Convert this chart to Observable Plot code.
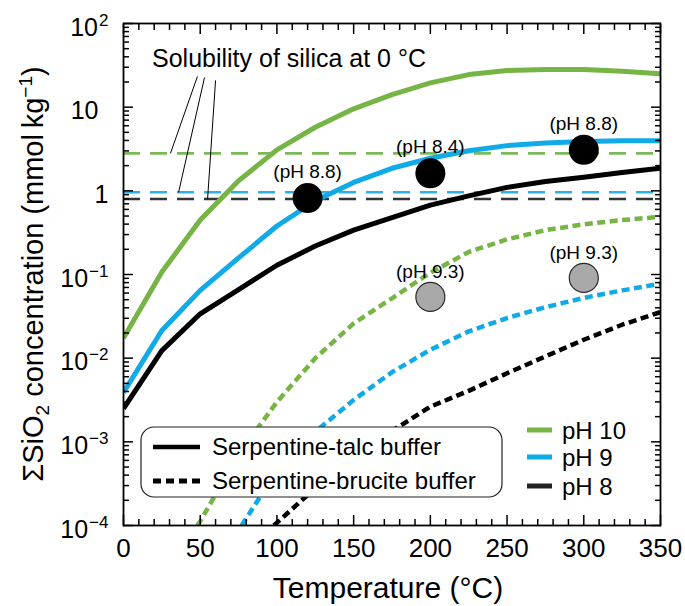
<!DOCTYPE html>
<html><head><meta charset="utf-8">
<script src="https://cdn.jsdelivr.net/npm/d3@7"></script>
<script src="https://cdn.jsdelivr.net/npm/@observablehq/plot@0.6"></script>
<style>
html,body{margin:0;padding:0;background:#fff;}
#chart svg{display:block;}
</style>
</head><body><div id="chart"></div>
<script>
// ---------- data ----------
const temps = [0, 25, 50, 75, 100, 125, 150, 175, 200, 225, 250, 275, 300, 325, 350];
// Serpentine-talc buffer (solid)
const talcPH10 = [0.0174, 0.107, 0.447, 1.32, 3.09, 5.75, 9.55, 14.1, 19.5, 24.5, 27.5, 28.2, 28.2, 26.9, 25.1];
const talcPH9  = [0.0039, 0.0214, 0.0646, 0.158, 0.38, 0.76, 1.26, 1.86, 2.45, 3.02, 3.47, 3.72, 3.89, 3.98, 3.98];
const talcPH8  = [0.0025, 0.0123, 0.0339, 0.066, 0.129, 0.219, 0.339, 0.479, 0.676, 0.871, 1.10, 1.29, 1.45, 1.66, 1.86];
// Serpentine-brucite buffer (dotted)
const bruciteTempsPH10 = [48, 50, 75, 100, 125, 150, 175, 200, 225, 250, 275, 300, 325, 350];
const brucitePH10 = [1.0e-4, 1.12e-4, 7.1e-4, 3.0e-3, 0.010, 0.026, 0.052, 0.105, 0.186, 0.263, 0.339, 0.398, 0.447, 0.49];
const bruciteTempsPH9 = [77, 100, 125, 150, 175, 200, 225, 250, 275, 300, 325, 350];
const brucitePH9 = [1.0e-4, 4.5e-4, 1.32e-3, 3.16e-3, 6.8e-3, 0.0126, 0.0209, 0.0302, 0.0407, 0.0525, 0.0646, 0.0776];
const bruciteTempsPH8 = [98, 125, 150, 175, 200, 225, 250, 275, 300, 325, 350];
const brucitePH8 = [1.0e-4, 2.8e-4, 6.3e-4, 1.35e-3, 2.63e-3, 4.07e-3, 6.6e-3, 0.0105, 0.0166, 0.0251, 0.0355];
// Solubility of silica at 0 °C (dashed lines), order: pH 10, pH 9, pH 8
const solubility = [2.8, 0.96, 0.80];
// Measured points
const blackDotT = [120, 200, 300];
const blackDotV = [0.82, 1.62, 3.09];
const blackDotLabels = ["(pH 8.8)", "(pH 8.4)", "(pH 8.8)"];
const grayDotT = [200, 300];
const grayDotV = [0.054, 0.091];
const grayDotLabels = ["(pH 9.3)", "(pH 9.3)"];
// Annotation leader lines (top end near text, bottom end on dashed line)
const leaderTopT = [48.2, 52.8, 60.0];
const leaderTopV = [23.3, 22.6, 20.9];
const leaderBottomT = [30.6, 35.9, 54.8];
// Labels
const phLabels = ["pH 10", "pH 9", "pH 8"];
const bufferLabels = ["Serpentine-talc buffer", "Serpentine-brucite buffer"];
const xTicks = [0, 50, 100, 150, 200, 250, 300, 350];

// ---------- styles ----------
const colors = ["#77b446", "#10abe6", "#000000"];
const dashColors = ["#7db95a", "#2bb0e8", "#333333"];
const FONT = '"Liberation Sans", Arial, Helvetica, sans-serif';

const xMinor = d3.range(0, 351, 10).filter(d => d % 50 !== 0);
const yMajor = [1e-4, 1e-3, 1e-2, 1e-1, 1, 10, 100];
const yMinor = [];
for (let e = -4; e <= 1; e++) for (let k = 2; k <= 9; k++) yMinor.push(k * Math.pow(10, e));

const talc = [talcPH10, talcPH9, talcPH8];
const bruT = [bruciteTempsPH10, bruciteTempsPH9, bruciteTempsPH8];
const bru = [brucitePH10, brucitePH9, brucitePH8];

const lineMarks = [];
talc.forEach((vals, s) => {
  lineMarks.push(Plot.line(temps.map((t, i) => ({t, v: vals[i]})),
    {x: "t", y: "v", stroke: colors[s], strokeWidth: 5, strokeLinecap: "butt", clip: true}));
});
bru.forEach((vals, s) => {
  lineMarks.push(Plot.line(bruT[s].map((t, i) => ({t, v: vals[i]})),
    {x: "t", y: "v", stroke: colors[s], strokeWidth: 4.5, strokeDasharray: "8,4.5", strokeLinecap: "butt", strokeLinejoin: "miter", clip: true}));
});

const solData = solubility.map((v, i) => ({v, c: dashColors[i]}));
const leaders = leaderTopT.map((t, i) => ({x1: t, y1: leaderTopV[i], x2: leaderBottomT[i], y2: solubility[i]}));
const blackDots = blackDotT.map((t, i) => ({t, v: blackDotV[i], label: blackDotLabels[i]}));
const grayDots = grayDotT.map((t, i) => ({t, v: grayDotV[i], label: grayDotLabels[i]}));

function yFmt(d) {
  const e = Math.round(Math.log10(d));
  if (e === 0) return "1";
  if (e === 1) return "10";
  return "10^" + e;
}

const chart = Plot.plot({
  width: 685, height: 606,
  marginLeft: 123, marginRight: 25, marginTop: 23, marginBottom: 81,
  style: {fontFamily: FONT, background: "white", color: "black"},
  x: {domain: [0, 350]},
  y: {type: "log", domain: [1e-4, 100]},
  marks: [
    Plot.ruleY(solData, {y: "v", stroke: "c", strokeWidth: 2.6, strokeDasharray: "17,10"}),
    Plot.link(leaders, {x1: "x1", y1: "y1", x2: "x2", y2: "y2", stroke: "black", strokeWidth: 1}),
    ...lineMarks,
    Plot.dot(blackDots, {x: "t", y: "v", r: 15, fill: "black"}),
    Plot.dot(grayDots, {x: "t", y: "v", r: 14.5, fill: "#a9a9a9", stroke: "#2a2a2a", strokeWidth: 1.2}),
    Plot.text(blackDots, {x: "t", y: "v", text: "label", dy: -20, lineAnchor: "bottom", fontSize: 19}),
    Plot.text(grayDots, {x: "t", y: "v", text: "label", dy: -19, lineAnchor: "bottom", fontSize: 19}),
    Plot.frame({stroke: "black", strokeWidth: 1.8}),
    // ticks (inward)
    Plot.axisX({anchor: "bottom", ticks: xTicks, tickSize: -10, tickFormat: () => "", label: null, strokeWidth: 1.5}),
    Plot.axisX({anchor: "bottom", ticks: xMinor, tickSize: -6, tickFormat: () => "", label: null, strokeWidth: 1.5}),
    Plot.axisX({anchor: "top", ticks: xTicks, tickSize: -10, tickFormat: () => "", label: null, strokeWidth: 1.5}),
    Plot.axisX({anchor: "top", ticks: xMinor, tickSize: -6, tickFormat: () => "", label: null, strokeWidth: 1.5}),
    Plot.axisY({anchor: "left", ticks: yMajor, tickSize: -10, tickFormat: () => "", label: null, strokeWidth: 1.5}),
    Plot.axisY({anchor: "left", ticks: yMinor, tickSize: -6, tickFormat: () => "", label: null, strokeWidth: 1.5}),
    Plot.axisY({anchor: "right", ticks: yMajor, tickSize: -10, tickFormat: () => "", label: null, strokeWidth: 1.5}),
    Plot.axisY({anchor: "right", ticks: yMinor, tickSize: -6, tickFormat: () => "", label: null, strokeWidth: 1.5}),
    // tick labels
    Plot.axisX({anchor: "bottom", ticks: xTicks, tickSize: 0, tickPadding: 13, fontSize: 26, label: null}),
    Plot.axisY({anchor: "left", ticks: yMajor, tickSize: 0, tickPadding: 15, fontSize: 25, tickFormat: yFmt, label: null, dy: 4})
  ]
});

document.getElementById("chart").appendChild(chart);
const svg = d3.select(chart);

// superscripts on y tick labels
svg.selectAll('g[aria-label="y-axis tick label"] text').each(function() {
  const s = this.textContent;
  const t = d3.select(this);
  if (s.includes("^")) {
    const [b, e] = s.split("^");
    t.text("");
    t.append("tspan").text(b);
    t.append("tspan").attr("font-size", 17).attr("dx", 1).attr("dy", -10).text(e.replace("-", "\u2212"));
  } else if (s === "10") {
    t.attr("dx", -10);
  }
});

// axis titles
svg.append("text")
  .attr("x", 388).attr("y", 598)
  .attr("text-anchor", "middle")
  .attr("font-family", FONT).attr("font-size", 30)
  .text("Temperature (°C)");

const yl = svg.append("text")
  .attr("transform", "translate(43,274) rotate(-90)")
  .attr("text-anchor", "middle")
  .attr("font-family", FONT).attr("font-size", 29);
yl.append("tspan").text("\u03A3SiO");
yl.append("tspan").attr("font-size", 19).attr("dy", 6).text("2");
yl.append("tspan").attr("dy", -6).text(" concentration (mmol\u2009kg");
yl.append("tspan").attr("font-size", 19).attr("dy", -11).text("\u22121");
yl.append("tspan").attr("dy", 11).text(")");

// annotation text
svg.append("text")
  .attr("x", 152).attr("y", 67)
  .attr("text-anchor", "start")
  .attr("font-family", FONT).attr("font-size", 25)
  .text("Solubility of silica at 0 °C");

// buffer legend
const lg = svg.append("g").attr("font-family", FONT).attr("text-anchor", "start");
lg.append("rect").attr("x", 141).attr("y", 427).attr("width", 361).attr("height", 70)
  .attr("rx", 13).attr("fill", "white").attr("stroke", "#222").attr("stroke-width", 1.2);
lg.append("line").attr("x1", 153).attr("x2", 200).attr("y1", 447).attr("y2", 447)
  .attr("stroke", "black").attr("stroke-width", 4.5);
lg.append("line").attr("x1", 153).attr("x2", 200).attr("y1", 481).attr("y2", 481)
  .attr("stroke", "black").attr("stroke-width", 5).attr("stroke-dasharray", "8,5");
lg.append("text").attr("x", 212).attr("y", 455).attr("font-size", 24).text(bufferLabels[0]);
lg.append("text").attr("x", 212).attr("y", 489).attr("font-size", 24).text(bufferLabels[1]);

// pH legend
const phY = [430, 457, 486];
const phColors = [colors[0], colors[1], "#222"];
phLabels.forEach((l, i) => {
  lg.append("line").attr("x1", 527).attr("x2", 552).attr("y1", phY[i]).attr("y2", phY[i])
    .attr("stroke", phColors[i]).attr("stroke-width", 5);
  lg.append("text").attr("x", 562).attr("y", phY[i] + 8.5).attr("font-size", 24).text(l);
});
</script>
</body></html>
